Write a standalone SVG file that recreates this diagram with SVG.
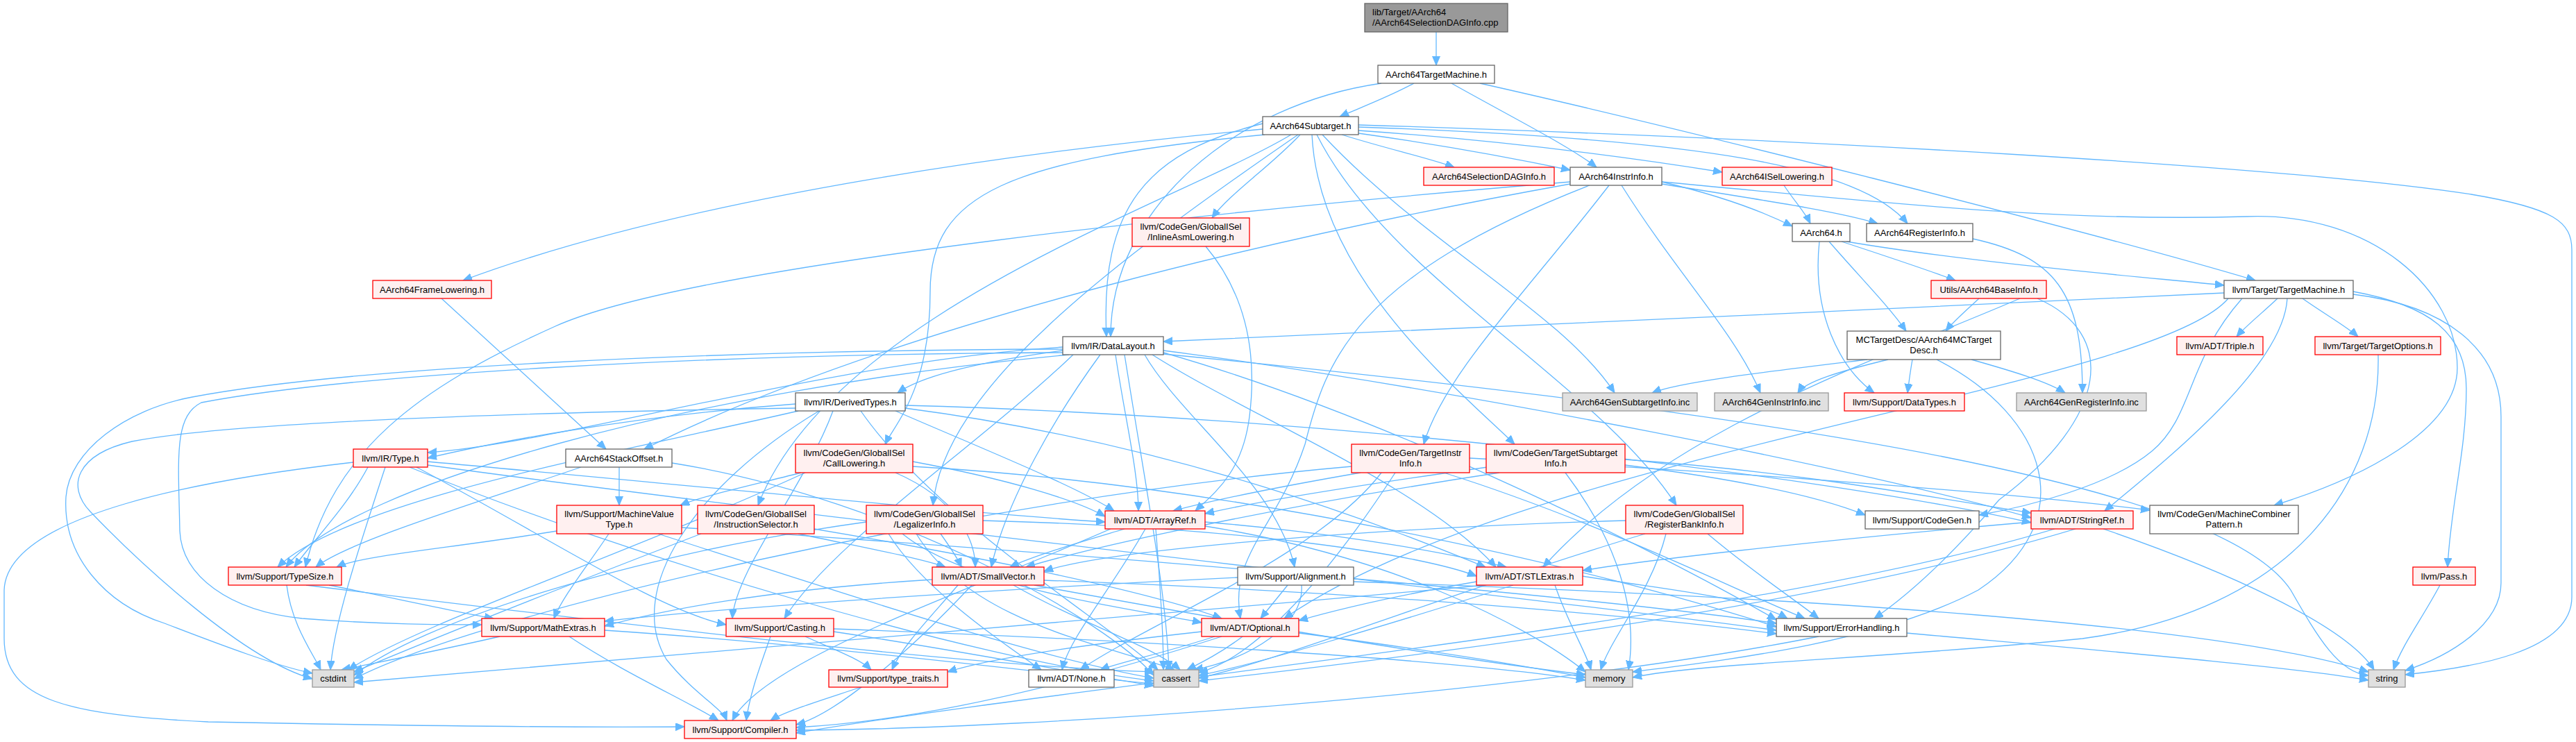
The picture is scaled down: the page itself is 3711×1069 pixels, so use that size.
<svg xmlns="http://www.w3.org/2000/svg" width="3711" height="1069" viewBox="0 0 3711 1069">
<style>
.e path{fill:none;stroke:#63B8FF;stroke-width:1.3;marker-end:url(#ah)}
.n rect{stroke-width:1.3}
.w rect{fill:#fff;stroke:#666}
.r rect{fill:#FFF0F0;stroke:#F00}
.g rect{fill:#E0E0E0;stroke:#999}
.k rect{fill:#999;stroke:#666}
text{font-family:"Liberation Sans",Arial,Helvetica,sans-serif;font-size:13px;fill:#000;text-anchor:middle}
.k text{text-anchor:start}
</style>
<defs>
<marker id="ah" markerUnits="userSpaceOnUse" markerWidth="14" markerHeight="12" refX="13" refY="5.5" orient="auto"><path d="M0,0 L13,5.5 L0,11 Z" fill="#63B8FF" stroke="#63B8FF"/></marker>
</defs>
<rect width="3711" height="1069" fill="#fff"/>
<g id="edges" class="e">
<path d="M2069,46 L2069,94"/>
<path d="M1990,120 C1780,150 1600,300 1600,485"/>
<path d="M2037,120 C2000,140 1960,155 1930,168"/>
<path d="M2091,120 C2180,170 2260,210 2300,241"/>
<path d="M2132,120 C2400,180 3000,330 3249,404"/>
<path d="M1819,186 C1500,215 1000,280 667,404"/>
<path d="M1957,188 C2200,205 2400,235 2481,248"/>
<path d="M1957,192 C2100,212 2200,232 2262,245"/>
<path d="M1957,183 C2450,200 2680,240 2748,322"/>
<path d="M1933,194 C2000,215 2060,228 2095,241"/>
<path d="M1822,194 C1450,230 1340,280 1340,420 C1340,560 1290,610 1275,640"/>
<path d="M1873,194 C1830,240 1770,280 1746,314"/>
<path d="M1860,194 C1700,290 1200,450 1092,728"/>
<path d="M1870,194 C1600,380 1360,560 1344,728"/>
<path d="M1897,194 C2000,400 2300,550 2415,728"/>
<path d="M1890,194 C1900,400 2100,560 2182,640"/>
<path d="M1819,178 C1650,220 1585,300 1594,485"/>
<path d="M1957,180 C2600,200 3300,240 3560,280 C3680,300 3705,320 3705,360 L3705,860 C3705,940 3560,962 3465,972"/>
<path d="M1905,194 C2050,350 2250,450 2326,566"/>
<path d="M2394,262 C2470,280 2530,300 2582,326"/>
<path d="M2394,265 C2550,290 2650,305 2705,322"/>
<path d="M2262,265 C1900,330 1300,460 928,647"/>
<path d="M2290,267 C1950,400 1910,520 1880,640 C1840,760 1770,800 1787,891"/>
<path d="M2394,262 C2700,290 2950,320 3236,312 C3420,305 3540,420 3540,530 C3540,620 3400,690 3276,728"/>
<path d="M2318,267 C2200,420 2080,540 2051,640"/>
<path d="M2262,262 C1800,300 1000,380 800,470 C600,560 480,650 440,817"/>
<path d="M2336,267 C2420,400 2500,480 2536,566"/>
<path d="M2570,267 C2585,290 2600,305 2608,322"/>
<path d="M2635,348 C2680,400 2720,440 2746,477"/>
<path d="M2653,348 C2720,370 2780,390 2817,404"/>
<path d="M2621,348 C2610,450 2650,530 2700,566"/>
<path d="M2660,348 C2850,380 3100,400 3204,411"/>
<path d="M2842,344 C2960,370 3000,420 3000,566"/>
<path d="M636,430 L873,647"/>
<path d="M2851,430 C2835,445 2815,462 2803,477"/>
<path d="M2910,430 C2700,520 2400,620 2223,817"/>
<path d="M2935,430 C3050,480 3040,600 2880,720 C2820,790 2760,850 2700,891"/>
<path d="M3204,422 C2800,440 2000,480 1676,492"/>
<path d="M3281,430 C3260,450 3235,470 3222,485"/>
<path d="M3317,430 C3345,450 3380,470 3397,485"/>
<path d="M3390,420 C3500,440 3553,480 3553,560 C3553,650 3530,730 3526,817"/>
<path d="M3390,424 C3520,440 3603,500 3603,600 L3603,840 C3603,900 3530,945 3465,966"/>
<path d="M3210,430 C3100,560 2200,650 1850,891"/>
<path d="M3295,430 C3290,520 3150,640 3032,736"/>
<path d="M3230,430 C3150,520 3160,600 3100,650 C3040,700 2920,730 2851,742"/>
<path d="M3426,511 C3430,700 3300,880 3000,920 C2700,950 2450,955 2352,976"/>
<path d="M3515,843 C3490,890 3460,930 3448,965"/>
<path d="M1531,505 C1420,520 1330,540 1293,566"/>
<path d="M1531,500 C1200,520 800,640 616,652"/>
<path d="M1607,511 C1620,600 1640,680 1640,736"/>
<path d="M1660,511 C1800,600 2050,700 2155,817"/>
<path d="M1585,511 C1520,600 1450,720 1428,817"/>
<path d="M1676,505 C2100,560 2700,680 2926,746"/>
<path d="M1546,511 C1400,650 1200,780 1130,891"/>
<path d="M1676,508 C2000,600 2400,800 2559,893"/>
<path d="M1531,508 C1000,510 500,540 290,580 C250,600 257,660 259,765 C262,830 330,880 435,891 C550,900 640,900 694,900"/>
<path d="M1649,511 C1700,600 1840,700 1865,817"/>
<path d="M1540,511 C1000,560 500,700 412,817"/>
<path d="M1620,511 C1650,700 1680,850 1684,965"/>
<path d="M1531,503 C1000,505 500,530 277,572 C180,590 100,650 95,716 C90,800 150,870 237,898 C320,930 400,960 450,970"/>
<path d="M1676,510 C2600,600 3200,700 3300,850 C3340,920 3370,970 3412,973"/>
<path d="M1146,582 C900,600 700,640 616,660"/>
<path d="M1290,592 C1400,640 1550,700 1605,736"/>
<path d="M1304,588 C1700,640 2000,760 2140,817"/>
<path d="M1304,584 C1900,600 2600,680 2926,753"/>
<path d="M1200,592 C1160,700 1060,820 1055,891"/>
<path d="M1180,592 C1000,700 900,850 960,950 C1000,1000 1040,1020 1047,1038"/>
<path d="M1150,592 C900,650 500,720 400,817"/>
<path d="M1240,592 C1350,750 1600,900 1668,965"/>
<path d="M1146,588 C700,595 320,610 190,636 C110,655 95,700 130,737 C200,810 350,950 450,978"/>
<path d="M616,665 C1000,700 1400,740 1592,752"/>
<path d="M600,673 C800,780 950,880 1046,900"/>
<path d="M509,666 C300,690 10,740 6,850 L6,920 C6,1010 100,1030 300,1040 C600,1046 850,1048 986,1047"/>
<path d="M616,670 C1200,750 2200,860 2559,908"/>
<path d="M530,673 C500,730 450,780 424,817"/>
<path d="M590,673 C900,800 1400,950 1662,981"/>
<path d="M555,673 C520,780 480,900 476,965"/>
<path d="M474,843 C560,860 650,880 711,891"/>
<path d="M441,843 C900,900 1400,960 1662,968"/>
<path d="M413,843 C420,900 450,940 462,965"/>
<path d="M892,673 L892,728"/>
<path d="M837,673 C700,720 500,780 455,817"/>
<path d="M968,667 C1300,720 1600,900 1662,973"/>
<path d="M877,769 C850,810 810,860 798,891"/>
<path d="M802,765 C650,790 520,800 485,817"/>
<path d="M948,769 C1200,850 1500,950 1662,977"/>
<path d="M982,760 C1600,800 2300,860 2559,898"/>
<path d="M1154,681 C1080,700 1010,715 980,728"/>
<path d="M1315,665 C1450,690 1550,720 1592,744"/>
<path d="M1290,681 C1380,720 1405,780 1405,817"/>
<path d="M1315,672 C1800,700 2300,820 2559,903"/>
<path d="M1160,681 C900,800 600,900 502,965"/>
<path d="M1173,762 C1400,800 1650,850 1760,891"/>
<path d="M1150,769 C1250,790 1330,805 1362,817"/>
<path d="M1010,769 C800,850 600,930 510,968"/>
<path d="M1280,769 C1330,850 1450,930 1500,965"/>
<path d="M1300,769 C1400,850 1650,880 1731,897"/>
<path d="M1416,750 C1800,760 2050,800 2127,830"/>
<path d="M1355,769 C1370,790 1380,805 1385,817"/>
<path d="M1320,769 C1400,900 1600,930 1692,965"/>
<path d="M1248,752 C900,800 600,900 510,973"/>
<path d="M1737,355 C1800,430 1810,520 1800,600 C1790,680 1750,710 1722,736"/>
<path d="M2342,750 C2000,760 1600,790 1504,823"/>
<path d="M2460,769 C2520,820 2580,860 2620,891"/>
<path d="M2370,769 C2100,850 1850,950 1727,977"/>
<path d="M2400,769 C2380,850 2320,920 2306,965"/>
<path d="M1960,681 C1850,700 1750,720 1690,736"/>
<path d="M1990,681 C1900,800 1650,900 1556,965"/>
<path d="M2117,660 C2500,680 2900,710 3097,735"/>
<path d="M2080,681 C2300,750 2500,850 2600,891"/>
<path d="M2010,681 C1900,850 1800,950 1727,969"/>
<path d="M1947,672 C1400,720 700,880 510,978"/>
<path d="M2150,672 C1950,700 1800,725 1736,740"/>
<path d="M2160,681 C1900,720 1600,780 1478,817"/>
<path d="M2341,662 C2600,680 2800,720 2926,739"/>
<path d="M2341,670 C2500,690 2620,715 2687,742"/>
<path d="M2255,681 C2330,780 2360,880 2346,965"/>
<path d="M1650,762 C1600,850 1540,920 1530,965"/>
<path d="M1620,762 C1560,780 1490,800 1455,817"/>
<path d="M1736,752 C1950,770 2100,800 2170,817"/>
<path d="M1600,762 C1400,850 1100,950 1055,1038"/>
<path d="M1665,762 C1672,850 1676,920 1676,965"/>
<path d="M1736,758 C2000,800 2200,900 2284,968"/>
<path d="M1400,843 C1300,950 1200,1030 1147,1044"/>
<path d="M1343,835 C1100,850 950,880 871,902"/>
<path d="M1380,843 C1340,890 1300,930 1285,965"/>
<path d="M1504,836 C1900,850 2300,880 2559,913"/>
<path d="M1460,843 C1560,900 1660,930 1700,965"/>
<path d="M1490,843 C1800,900 2100,950 2284,972"/>
<path d="M2926,752 C2600,780 2350,810 2280,822"/>
<path d="M2960,762 C2500,900 1600,980 1147,1056"/>
<path d="M2990,762 C2600,880 2000,950 1727,981"/>
<path d="M3030,762 C3200,820 3380,900 3420,965"/>
<path d="M1855,843 L1816,891"/>
<path d="M1783,832 C1400,850 1000,880 871,895"/>
<path d="M1875,843 C1880,900 1800,950 1720,965"/>
<path d="M1950,838 C2600,860 3200,900 3412,968"/>
<path d="M2127,838 C2000,860 1920,880 1871,894"/>
<path d="M2280,830 C2400,850 2520,860 2575,891"/>
<path d="M2180,843 C2000,900 1800,960 1727,973"/>
<path d="M2140,843 C1500,900 800,960 510,983"/>
<path d="M2240,843 C2260,900 2285,940 2292,965"/>
<path d="M1750,917 C1680,940 1610,955 1585,965"/>
<path d="M1760,917 C1500,1000 1300,1040 1147,1048"/>
<path d="M1731,910 C1550,930 1420,950 1365,968"/>
<path d="M1790,917 C1760,940 1730,955 1710,965"/>
<path d="M1871,912 C2050,935 2200,960 2284,976"/>
<path d="M2620,917 C2200,1000 1500,1050 1147,1052"/>
<path d="M2747,912 C3000,935 3300,960 3412,980"/>
<path d="M820,917 C900,970 990,1010 1035,1038"/>
<path d="M871,908 C1200,930 1500,970 1662,985"/>
<path d="M720,917 C620,940 540,955 492,965"/>
<path d="M1110,917 C1095,960 1080,1000 1075,1038"/>
<path d="M1160,917 C1200,935 1240,950 1255,965"/>
<path d="M1201,910 C1400,940 1550,970 1662,988"/>
<path d="M1201,906 C1600,920 2100,950 2284,980"/>
<path d="M1240,990 C1180,1010 1130,1025 1110,1038"/>
<path d="M2690,518 C2550,535 2420,550 2380,566"/>
<path d="M2720,518 C2650,535 2600,550 2590,566"/>
<path d="M2755,518 C2752,535 2750,550 2748,566"/>
<path d="M2790,518 C2950,600 3000,750 2850,850 C2700,930 2450,955 2352,968"/>
<path d="M2840,518 C2900,535 2950,550 2975,566"/>
</g>
<g id="n_root" class="n k"><rect x="1966" y="5" width="206" height="41"/><text x="1977" y="22">lib/Target/AArch64</text><text x="1977" y="37">/AArch64SelectionDAGInfo.cpp</text></g>
<g id="n_a64tm" class="n w"><rect x="1985" y="94" width="168" height="26"/><text x="2069" y="111.5">AArch64TargetMachine.h</text></g>
<g id="n_sub" class="n w"><rect x="1819" y="168" width="138" height="26"/><text x="1888" y="185.5">AArch64Subtarget.h</text></g>
<g id="n_seldag" class="n r"><rect x="2051" y="241" width="188" height="26"/><text x="2145" y="258.5">AArch64SelectionDAGInfo.h</text></g>
<g id="n_instrinfo" class="n w"><rect x="2262" y="241" width="132" height="26"/><text x="2328" y="258.5">AArch64InstrInfo.h</text></g>
<g id="n_isel" class="n r"><rect x="2481" y="241" width="158" height="26"/><text x="2560" y="258.5">AArch64ISelLowering.h</text></g>
<g id="n_inlineasm" class="n r"><rect x="1631" y="314" width="169" height="41"/><text x="1715.5" y="331">llvm/CodeGen/GlobalISel</text><text x="1715.5" y="346">/InlineAsmLowering.h</text></g>
<g id="n_a64" class="n w"><rect x="2582" y="322" width="83" height="26"/><text x="2623.5" y="339.5">AArch64.h</text></g>
<g id="n_reginfo" class="n w"><rect x="2689" y="322" width="153" height="26"/><text x="2765.5" y="339.5">AArch64RegisterInfo.h</text></g>
<g id="n_frame" class="n r"><rect x="537" y="404" width="171" height="26"/><text x="622.5" y="421.5">AArch64FrameLowering.h</text></g>
<g id="n_baseinfo" class="n r"><rect x="2782" y="404" width="166" height="26"/><text x="2865" y="421.5">Utils/AArch64BaseInfo.h</text></g>
<g id="n_tm" class="n w"><rect x="3204" y="404" width="186" height="26"/><text x="3297" y="421.5">llvm/Target/TargetMachine.h</text></g>
<g id="n_dl" class="n w"><rect x="1531" y="485" width="145" height="26"/><text x="1603.5" y="502.5">llvm/IR/DataLayout.h</text></g>
<g id="n_mctd" class="n w"><rect x="2661" y="477" width="221" height="41"/><text x="2771.5" y="494">MCTargetDesc/AArch64MCTarget</text><text x="2771.5" y="509">Desc.h</text></g>
<g id="n_triple" class="n r"><rect x="3136" y="485" width="124" height="26"/><text x="3198" y="502.5">llvm/ADT/Triple.h</text></g>
<g id="n_topt" class="n r"><rect x="3335" y="485" width="181" height="26"/><text x="3425.5" y="502.5">llvm/Target/TargetOptions.h</text></g>
<g id="n_dt" class="n w"><rect x="1146" y="566" width="158" height="26"/><text x="1225" y="583.5">llvm/IR/DerivedTypes.h</text></g>
<g id="n_gensub" class="n g"><rect x="2251" y="566" width="194" height="26"/><text x="2348" y="583.5">AArch64GenSubtargetInfo.inc</text></g>
<g id="n_geninstr" class="n g"><rect x="2470" y="566" width="164" height="26"/><text x="2552" y="583.5">AArch64GenInstrInfo.inc</text></g>
<g id="n_datatypes" class="n r"><rect x="2657" y="566" width="173" height="26"/><text x="2743.5" y="583.5">llvm/Support/DataTypes.h</text></g>
<g id="n_genreg" class="n g"><rect x="2905" y="566" width="187" height="26"/><text x="2998.5" y="583.5">AArch64GenRegisterInfo.inc</text></g>
<g id="n_type" class="n r"><rect x="509" y="647" width="107" height="26"/><text x="562.5" y="664.5">llvm/IR/Type.h</text></g>
<g id="n_stackoff" class="n w"><rect x="815" y="647" width="153" height="26"/><text x="891.5" y="664.5">AArch64StackOffset.h</text></g>
<g id="n_calllow" class="n r"><rect x="1146" y="640" width="169" height="41"/><text x="1230.5" y="657">llvm/CodeGen/GlobalISel</text><text x="1230.5" y="672">/CallLowering.h</text></g>
<g id="n_tii" class="n r"><rect x="1947" y="640" width="170" height="41"/><text x="2032" y="657">llvm/CodeGen/TargetInstr</text><text x="2032" y="672">Info.h</text></g>
<g id="n_tsi" class="n r"><rect x="2141" y="640" width="200" height="41"/><text x="2241" y="657">llvm/CodeGen/TargetSubtarget</text><text x="2241" y="672">Info.h</text></g>
<g id="n_arrayref" class="n r"><rect x="1592" y="736" width="144" height="26"/><text x="1664" y="753.5">llvm/ADT/ArrayRef.h</text></g>
<g id="n_codegen" class="n w"><rect x="2687" y="736" width="164" height="26"/><text x="2769" y="753.5">llvm/Support/CodeGen.h</text></g>
<g id="n_stringref" class="n r"><rect x="2926" y="736" width="147" height="26"/><text x="2999.5" y="753.5">llvm/ADT/StringRef.h</text></g>
<g id="n_mvt" class="n r"><rect x="802" y="728" width="180" height="41"/><text x="892" y="745">llvm/Support/MachineValue</text><text x="892" y="760">Type.h</text></g>
<g id="n_iselector" class="n r"><rect x="1005" y="728" width="168" height="41"/><text x="1089" y="745">llvm/CodeGen/GlobalISel</text><text x="1089" y="760">/InstructionSelector.h</text></g>
<g id="n_legal" class="n r"><rect x="1248" y="728" width="168" height="41"/><text x="1332" y="745">llvm/CodeGen/GlobalISel</text><text x="1332" y="760">/LegalizerInfo.h</text></g>
<g id="n_rbi" class="n r"><rect x="2342" y="728" width="169" height="41"/><text x="2426.5" y="745">llvm/CodeGen/GlobalISel</text><text x="2426.5" y="760">/RegisterBankInfo.h</text></g>
<g id="n_mcp" class="n w"><rect x="3097" y="728" width="214" height="41"/><text x="3204" y="745">llvm/CodeGen/MachineCombiner</text><text x="3204" y="760">Pattern.h</text></g>
<g id="n_typesize" class="n r"><rect x="329" y="817" width="163" height="26"/><text x="410.5" y="834.5">llvm/Support/TypeSize.h</text></g>
<g id="n_smallvec" class="n r"><rect x="1343" y="817" width="161" height="26"/><text x="1423.5" y="834.5">llvm/ADT/SmallVector.h</text></g>
<g id="n_align" class="n w"><rect x="1783" y="817" width="167" height="26"/><text x="1866.5" y="834.5">llvm/Support/Alignment.h</text></g>
<g id="n_stl" class="n r"><rect x="2127" y="817" width="153" height="26"/><text x="2203.5" y="834.5">llvm/ADT/STLExtras.h</text></g>
<g id="n_pass" class="n r"><rect x="3476" y="817" width="90" height="26"/><text x="3521" y="834.5">llvm/Pass.h</text></g>
<g id="n_math" class="n r"><rect x="694" y="891" width="177" height="26"/><text x="782.5" y="908.5">llvm/Support/MathExtras.h</text></g>
<g id="n_casting" class="n r"><rect x="1046" y="891" width="155" height="26"/><text x="1123.5" y="908.5">llvm/Support/Casting.h</text></g>
<g id="n_optional" class="n r"><rect x="1731" y="891" width="140" height="26"/><text x="1801" y="908.5">llvm/ADT/Optional.h</text></g>
<g id="n_errh" class="n w"><rect x="2559" y="891" width="188" height="26"/><text x="2653" y="908.5">llvm/Support/ErrorHandling.h</text></g>
<g id="n_cstdint" class="n g"><rect x="450" y="965" width="60" height="25"/><text x="480" y="982">cstdint</text></g>
<g id="n_typetraits" class="n r"><rect x="1194" y="965" width="171" height="25"/><text x="1279.5" y="982">llvm/Support/type_traits.h</text></g>
<g id="n_none" class="n w"><rect x="1482" y="965" width="123" height="25"/><text x="1543.5" y="982">llvm/ADT/None.h</text></g>
<g id="n_cassert" class="n g"><rect x="1662" y="965" width="65" height="25"/><text x="1694.5" y="982">cassert</text></g>
<g id="n_memory" class="n g"><rect x="2284" y="965" width="68" height="25"/><text x="2318" y="982">memory</text></g>
<g id="n_string" class="n g"><rect x="3412" y="965" width="53" height="25"/><text x="3438.5" y="982">string</text></g>
<g id="n_compiler" class="n r"><rect x="986" y="1038" width="161" height="26"/><text x="1066.5" y="1055.5">llvm/Support/Compiler.h</text></g>
</svg>
